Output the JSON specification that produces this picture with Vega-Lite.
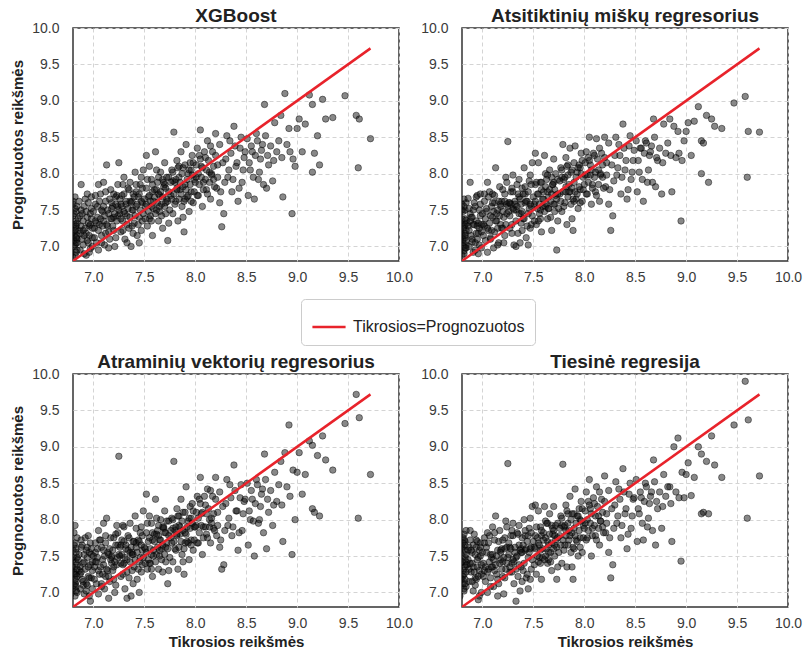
{
"$schema":"https://vega.github.io/schema/vega-lite/v6.json",
"padding":{"left":10,"top":6,"right":5,"bottom":5},
"config":{
 "font":"Liberation Sans",
 "view":{"stroke":"#333333","strokeWidth":1.5},
 "axis":{"grid":true,"gridDash":[4,3],"gridColor":"#d4d4d4","gridWidth":1,"domain":false,"ticks":false,"labelFontSize":14,"labelColor":"#3a3a3a","labelFlush":false,"labelOverlap":false,"titleFontSize":15,"titleFontWeight":"bold","titleColor":"#222222","values":[7,7.5,8,8.5,9,9.5,10],"format":".1f"},
 "axisX":{"labelPadding":9,"titlePadding":4},
 "axisY":{"labelPadding":14,"titlePadding":6},
 "title":{"fontSize":19,"fontWeight":"bold","color":"#222222","offset":-5},
 "circle":{"size":42,"fill":"#111111","fillOpacity":0.5,"stroke":"#000000","strokeWidth":0.8,"strokeOpacity":0.55},
 "legend":{"orient":"none","legendX":228,"legendY":271,"labelFontSize":16,"labelLimit":400,"labelColor":"#222222","symbolType":"stroke","symbolSize":1100,"symbolStrokeWidth":2.5,"strokeColor":"#cccccc","fillColor":"white","padding":10,"cornerRadius":4,"labelOffset":6}
},
"datasets":{
 "pts":[
{"actual":6.75,"xgb":7.05,"rf":7.10,"svr":7.02,"lr":7.15},
{"actual":6.78,"xgb":6.92,"rf":6.95,"svr":7.20,"lr":7.30},
{"actual":6.80,"xgb":7.20,"rf":7.15,"svr":7.45,"lr":7.60},
{"actual":6.82,"xgb":6.88,"rf":6.90,"svr":6.95,"lr":7.05},
{"actual":6.83,"xgb":7.35,"rf":7.30,"svr":7.60,"lr":7.70},
{"actual":6.81,"xgb":7.00,"rf":7.05,"svr":7.10,"lr":7.22},
{"actual":6.79,"xgb":7.12,"rf":7.20,"svr":7.30,"lr":7.40},
{"actual":6.84,"xgb":7.55,"rf":7.60,"svr":7.75,"lr":7.85},
{"actual":6.76,"xgb":6.98,"rf":7.00,"svr":6.90,"lr":7.10},
{"actual":6.83,"xgb":7.25,"rf":7.38,"svr":7.25,"lr":7.48},
{"actual":6.82,"xgb":7.68,"rf":7.65,"svr":7.92,"lr":7.80},
{"actual":6.80,"xgb":6.85,"rf":6.88,"svr":7.05,"lr":7.18},
{"actual":6.84,"xgb":7.10,"rf":7.02,"svr":7.38,"lr":7.28},
{"actual":6.77,"xgb":7.40,"rf":7.45,"svr":7.52,"lr":7.55},
{"actual":6.83,"xgb":7.05,"rf":7.12,"svr":7.15,"lr":7.35},
{"actual":6.81,"xgb":7.30,"rf":7.25,"svr":7.65,"lr":7.75},
{"actual":6.84,"xgb":6.95,"rf":6.98,"svr":7.00,"lr":7.08},
{"actual":6.79,"xgb":7.18,"rf":7.30,"svr":7.35,"lr":7.20},
{"actual":6.83,"xgb":7.48,"rf":7.50,"svr":7.55,"lr":7.65},
{"actual":6.82,"xgb":7.02,"rf":6.94,"svr":7.12,"lr":7.02},
{"actual":6.80,"xgb":7.62,"rf":7.58,"svr":7.48,"lr":7.50},
{"actual":6.84,"xgb":7.15,"rf":7.22,"svr":7.22,"lr":7.38},
{"actual":6.78,"xgb":6.90,"rf":7.08,"svr":6.98,"lr":6.95},
{"actual":6.83,"xgb":7.28,"rf":7.18,"svr":7.42,"lr":7.58},
{"actual":6.81,"xgb":7.08,"rf":7.00,"svr":7.28,"lr":7.12},
{"actual":6.86,"xgb":7.22,"rf":7.28,"svr":7.30,"lr":7.45},
{"actual":6.87,"xgb":6.95,"rf":7.00,"svr":7.05,"lr":7.15},
{"actual":6.88,"xgb":7.50,"rf":7.45,"svr":7.62,"lr":7.72},
{"actual":6.89,"xgb":7.10,"rf":7.15,"svr":7.18,"lr":7.28},
{"actual":6.90,"xgb":7.35,"rf":7.40,"svr":7.40,"lr":7.55},
{"actual":6.91,"xgb":6.90,"rf":6.92,"svr":6.98,"lr":7.02},
{"actual":6.92,"xgb":7.65,"rf":7.60,"svr":7.75,"lr":7.80},
{"actual":6.93,"xgb":7.18,"rf":7.05,"svr":7.12,"lr":7.20},
{"actual":6.94,"xgb":7.40,"rf":7.35,"svr":7.48,"lr":7.62},
{"actual":6.95,"xgb":7.05,"rf":7.10,"svr":7.22,"lr":7.35},
{"actual":6.96,"xgb":7.28,"rf":7.32,"svr":7.55,"lr":7.48},
{"actual":6.97,"xgb":6.97,"rf":7.02,"svr":6.88,"lr":6.95},
{"actual":6.98,"xgb":7.52,"rf":7.58,"svr":7.60,"lr":7.68},
{"actual":6.99,"xgb":7.12,"rf":7.20,"svr":7.30,"lr":7.25},
{"actual":6.88,"xgb":7.85,"rf":7.88,"svr":7.72,"lr":7.85},
{"actual":6.90,"xgb":7.22,"rf":7.10,"svr":7.15,"lr":7.40},
{"actual":6.93,"xgb":6.88,"rf":6.95,"svr":7.02,"lr":7.10},
{"actual":6.95,"xgb":7.60,"rf":7.70,"svr":7.78,"lr":7.70},
{"actual":6.97,"xgb":7.30,"rf":7.25,"svr":7.38,"lr":7.30},
{"actual":6.99,"xgb":7.00,"rf":6.98,"svr":7.05,"lr":7.00},
{"actual":6.87,"xgb":7.42,"rf":7.52,"svr":7.25,"lr":7.62},
{"actual":6.91,"xgb":7.15,"rf":7.30,"svr":7.42,"lr":7.35},
{"actual":6.96,"xgb":6.92,"rf":6.90,"svr":6.95,"lr":6.90},
{"actual":6.98,"xgb":7.38,"rf":7.42,"svr":7.20,"lr":7.50},
{"actual":6.94,"xgb":7.08,"rf":7.18,"svr":7.10,"lr":7.18},
{"actual":7.01,"xgb":7.25,"rf":7.30,"svr":7.35,"lr":7.40},
{"actual":7.02,"xgb":7.58,"rf":7.62,"svr":7.55,"lr":7.68},
{"actual":7.03,"xgb":7.05,"rf":7.08,"svr":7.12,"lr":7.15},
{"actual":7.04,"xgb":7.40,"rf":7.48,"svr":7.60,"lr":7.55},
{"actual":7.05,"xgb":6.95,"rf":6.92,"svr":6.98,"lr":7.00},
{"actual":7.06,"xgb":7.30,"rf":7.22,"svr":7.25,"lr":7.32},
{"actual":7.07,"xgb":7.72,"rf":7.75,"svr":7.72,"lr":7.78},
{"actual":7.08,"xgb":7.15,"rf":7.12,"svr":7.08,"lr":7.20},
{"actual":7.09,"xgb":7.48,"rf":7.55,"svr":7.45,"lr":7.48},
{"actual":7.10,"xgb":7.35,"rf":7.40,"svr":7.38,"lr":7.35},
{"actual":7.11,"xgb":7.02,"rf":6.98,"svr":7.05,"lr":7.08},
{"actual":7.12,"xgb":7.62,"rf":7.60,"svr":7.68,"lr":7.72},
{"actual":7.13,"xgb":8.12,"rf":8.08,"svr":8.02,"lr":8.05},
{"actual":7.14,"xgb":7.28,"rf":7.35,"svr":7.30,"lr":7.25},
{"actual":7.15,"xgb":7.45,"rf":7.50,"svr":7.52,"lr":7.58},
{"actual":7.16,"xgb":7.10,"rf":7.05,"svr":7.15,"lr":7.12},
{"actual":7.17,"xgb":7.78,"rf":7.82,"svr":7.75,"lr":7.85},
{"actual":7.18,"xgb":7.38,"rf":7.30,"svr":7.40,"lr":7.45},
{"actual":7.19,"xgb":7.55,"rf":7.62,"svr":7.58,"lr":7.60},
{"actual":7.20,"xgb":7.22,"rf":7.25,"svr":7.18,"lr":7.22},
{"actual":7.21,"xgb":7.00,"rf":7.05,"svr":7.00,"lr":6.98},
{"actual":7.22,"xgb":7.68,"rf":7.72,"svr":7.80,"lr":7.75},
{"actual":7.23,"xgb":7.70,"rf":7.95,"svr":7.92,"lr":7.98},
{"actual":7.24,"xgb":7.42,"rf":7.45,"svr":7.48,"lr":7.40},
{"actual":7.25,"xgb":8.15,"rf":8.44,"svr":8.87,"lr":8.77},
{"actual":7.05,"xgb":7.85,"rf":7.88,"svr":7.85,"lr":7.82},
{"actual":7.08,"xgb":7.50,"rf":7.42,"svr":7.62,"lr":7.52},
{"actual":7.12,"xgb":7.18,"rf":7.20,"svr":7.22,"lr":7.30},
{"actual":7.15,"xgb":6.98,"rf":7.02,"svr":6.92,"lr":6.95},
{"actual":7.18,"xgb":7.60,"rf":7.55,"svr":7.48,"lr":7.58},
{"actual":7.20,"xgb":7.40,"rf":7.48,"svr":7.35,"lr":7.42},
{"actual":7.22,"xgb":7.12,"rf":7.15,"svr":7.10,"lr":7.20},
{"actual":7.02,"xgb":7.35,"rf":7.28,"svr":7.42,"lr":7.30},
{"actual":7.10,"xgb":7.88,"rf":7.72,"svr":7.95,"lr":7.90},
{"actual":7.24,"xgb":7.55,"rf":7.58,"svr":7.65,"lr":7.62},
{"actual":7.26,"xgb":7.45,"rf":7.48,"svr":7.50,"lr":7.52},
{"actual":7.27,"xgb":7.20,"rf":7.25,"svr":7.22,"lr":7.28},
{"actual":7.28,"xgb":7.70,"rf":7.75,"svr":7.72,"lr":7.78},
{"actual":7.29,"xgb":7.35,"rf":7.30,"svr":7.38,"lr":7.40},
{"actual":7.30,"xgb":7.95,"rf":7.98,"svr":7.90,"lr":7.95},
{"actual":7.31,"xgb":7.10,"rf":7.02,"svr":7.05,"lr":7.12},
{"actual":7.32,"xgb":7.58,"rf":7.62,"svr":7.60,"lr":7.55},
{"actual":7.33,"xgb":7.42,"rf":7.50,"svr":7.45,"lr":7.48},
{"actual":7.34,"xgb":7.80,"rf":7.85,"svr":7.78,"lr":7.82},
{"actual":7.35,"xgb":7.25,"rf":7.18,"svr":7.20,"lr":7.22},
{"actual":7.36,"xgb":7.62,"rf":7.68,"svr":7.55,"lr":7.65},
{"actual":7.37,"xgb":7.00,"rf":7.05,"svr":6.95,"lr":7.02},
{"actual":7.38,"xgb":7.50,"rf":7.45,"svr":7.52,"lr":7.55},
{"actual":7.39,"xgb":7.72,"rf":7.80,"svr":7.70,"lr":7.75},
{"actual":7.40,"xgb":7.32,"rf":7.38,"svr":7.35,"lr":7.30},
{"actual":7.41,"xgb":8.02,"rf":8.08,"svr":8.05,"lr":8.00},
{"actual":7.42,"xgb":7.55,"rf":7.60,"svr":7.62,"lr":7.58},
{"actual":7.43,"xgb":7.15,"rf":7.12,"svr":7.18,"lr":7.20},
{"actual":7.44,"xgb":7.68,"rf":7.62,"svr":7.72,"lr":7.70},
{"actual":7.45,"xgb":7.40,"rf":7.45,"svr":7.42,"lr":7.48},
{"actual":7.46,"xgb":7.85,"rf":7.90,"svr":7.82,"lr":7.88},
{"actual":7.47,"xgb":7.22,"rf":7.25,"svr":7.28,"lr":7.18},
{"actual":7.48,"xgb":7.60,"rf":7.55,"svr":7.58,"lr":7.62},
{"actual":7.49,"xgb":8.05,"rf":8.15,"svr":8.12,"lr":8.18},
{"actual":7.27,"xgb":7.58,"rf":7.60,"svr":7.65,"lr":7.62},
{"actual":7.30,"xgb":7.48,"rf":7.52,"svr":7.40,"lr":7.45},
{"actual":7.33,"xgb":7.05,"rf":7.00,"svr":6.92,"lr":6.88},
{"actual":7.36,"xgb":7.88,"rf":7.92,"svr":7.95,"lr":7.92},
{"actual":7.39,"xgb":7.18,"rf":7.22,"svr":7.12,"lr":7.15},
{"actual":7.42,"xgb":7.75,"rf":7.72,"svr":7.68,"lr":7.78},
{"actual":7.45,"xgb":7.05,"rf":7.02,"svr":7.00,"lr":7.05},
{"actual":7.48,"xgb":7.35,"rf":7.30,"svr":7.38,"lr":7.32},
{"actual":7.29,"xgb":7.85,"rf":7.80,"svr":7.92,"lr":7.85},
{"actual":7.38,"xgb":7.62,"rf":7.58,"svr":7.55,"lr":7.60},
{"actual":7.47,"xgb":7.95,"rf":7.98,"svr":7.90,"lr":8.02},
{"actual":7.51,"xgb":7.55,"rf":7.58,"svr":7.60,"lr":7.62},
{"actual":7.52,"xgb":7.80,"rf":7.85,"svr":7.82,"lr":7.78},
{"actual":7.53,"xgb":7.28,"rf":7.30,"svr":7.32,"lr":7.25},
{"actual":7.54,"xgb":7.68,"rf":7.72,"svr":7.70,"lr":7.75},
{"actual":7.55,"xgb":8.10,"rf":8.15,"svr":8.05,"lr":8.12},
{"actual":7.56,"xgb":7.42,"rf":7.45,"svr":7.40,"lr":7.48},
{"actual":7.57,"xgb":7.92,"rf":7.88,"svr":7.95,"lr":7.90},
{"actual":7.58,"xgb":7.15,"rf":7.20,"svr":7.22,"lr":7.18},
{"actual":7.59,"xgb":7.62,"rf":7.65,"svr":7.58,"lr":7.60},
{"actual":7.60,"xgb":7.78,"rf":7.75,"svr":7.80,"lr":7.82},
{"actual":7.61,"xgb":8.30,"rf":8.25,"svr":8.28,"lr":8.18},
{"actual":7.62,"xgb":7.50,"rf":7.55,"svr":7.52,"lr":7.50},
{"actual":7.63,"xgb":7.88,"rf":7.92,"svr":7.85,"lr":7.95},
{"actual":7.64,"xgb":7.35,"rf":7.38,"svr":7.32,"lr":7.40},
{"actual":7.65,"xgb":7.70,"rf":7.68,"svr":7.72,"lr":7.65},
{"actual":7.66,"xgb":8.02,"rf":8.05,"svr":8.00,"lr":8.08},
{"actual":7.67,"xgb":7.58,"rf":7.62,"svr":7.60,"lr":7.55},
{"actual":7.68,"xgb":7.25,"rf":7.22,"svr":7.28,"lr":7.30},
{"actual":7.69,"xgb":7.82,"rf":7.85,"svr":7.88,"lr":7.80},
{"actual":7.70,"xgb":8.15,"rf":8.20,"svr":8.12,"lr":8.18},
{"actual":7.71,"xgb":7.45,"rf":7.48,"svr":7.42,"lr":7.50},
{"actual":7.72,"xgb":7.65,"rf":7.70,"svr":7.68,"lr":7.72},
{"actual":7.73,"xgb":7.08,"rf":6.95,"svr":7.12,"lr":7.18},
{"actual":7.74,"xgb":7.95,"rf":7.92,"svr":7.98,"lr":7.95},
{"actual":7.52,"xgb":8.25,"rf":8.28,"svr":8.35,"lr":8.20},
{"actual":7.55,"xgb":7.38,"rf":7.35,"svr":7.40,"lr":7.42},
{"actual":7.58,"xgb":7.75,"rf":7.78,"svr":7.72,"lr":7.78},
{"actual":7.62,"xgb":8.05,"rf":8.00,"svr":8.02,"lr":7.98},
{"actual":7.65,"xgb":7.48,"rf":7.52,"svr":7.50,"lr":7.45},
{"actual":7.68,"xgb":7.92,"rf":7.95,"svr":7.90,"lr":7.92},
{"actual":7.71,"xgb":7.60,"rf":7.58,"svr":7.62,"lr":7.65},
{"actual":7.74,"xgb":7.32,"rf":7.35,"svr":7.30,"lr":7.35},
{"actual":7.57,"xgb":7.55,"rf":7.50,"svr":7.52,"lr":7.58},
{"actual":7.64,"xgb":7.72,"rf":7.75,"svr":7.78,"lr":7.70},
{"actual":7.70,"xgb":7.85,"rf":7.88,"svr":7.82,"lr":7.85},
{"actual":7.76,"xgb":7.70,"rf":7.72,"svr":7.75,"lr":7.78},
{"actual":7.77,"xgb":8.05,"rf":8.08,"svr":8.02,"lr":8.05},
{"actual":7.78,"xgb":7.45,"rf":7.48,"svr":7.42,"lr":7.40},
{"actual":7.79,"xgb":8.57,"rf":8.40,"svr":8.80,"lr":8.76},
{"actual":7.80,"xgb":7.88,"rf":7.92,"svr":7.85,"lr":7.90},
{"actual":7.81,"xgb":7.62,"rf":7.60,"svr":7.58,"lr":7.65},
{"actual":7.82,"xgb":8.18,"rf":8.22,"svr":8.15,"lr":8.20},
{"actual":7.83,"xgb":7.35,"rf":7.30,"svr":7.32,"lr":7.35},
{"actual":7.84,"xgb":7.95,"rf":7.98,"svr":7.92,"lr":7.95},
{"actual":7.85,"xgb":7.78,"rf":7.75,"svr":7.80,"lr":7.72},
{"actual":7.86,"xgb":8.30,"rf":8.35,"svr":8.28,"lr":8.32},
{"actual":7.87,"xgb":7.55,"rf":7.58,"svr":7.52,"lr":7.55},
{"actual":7.88,"xgb":8.08,"rf":8.05,"svr":8.10,"lr":8.08},
{"actual":7.89,"xgb":7.20,"rf":7.22,"svr":7.25,"lr":7.18},
{"actual":7.90,"xgb":7.85,"rf":7.88,"svr":7.82,"lr":7.88},
{"actual":7.91,"xgb":8.40,"rf":8.38,"svr":8.45,"lr":8.42},
{"actual":7.92,"xgb":7.68,"rf":7.65,"svr":7.70,"lr":7.72},
{"actual":7.93,"xgb":8.00,"rf":8.02,"svr":7.98,"lr":8.05},
{"actual":7.94,"xgb":7.48,"rf":7.52,"svr":7.45,"lr":7.50},
{"actual":7.95,"xgb":8.15,"rf":8.12,"svr":8.18,"lr":8.15},
{"actual":7.96,"xgb":7.75,"rf":7.78,"svr":7.72,"lr":7.75},
{"actual":7.97,"xgb":8.25,"rf":8.28,"svr":8.22,"lr":8.25},
{"actual":7.98,"xgb":7.60,"rf":7.62,"svr":7.58,"lr":7.55},
{"actual":7.99,"xgb":7.92,"rf":7.95,"svr":7.90,"lr":7.92},
{"actual":7.78,"xgb":7.90,"rf":7.95,"svr":7.88,"lr":7.92},
{"actual":7.84,"xgb":8.10,"rf":8.12,"svr":8.05,"lr":8.08},
{"actual":7.90,"xgb":7.65,"rf":7.62,"svr":7.68,"lr":7.60},
{"actual":7.96,"xgb":8.05,"rf":8.08,"svr":8.02,"lr":8.00},
{"actual":7.82,"xgb":7.80,"rf":7.82,"svr":7.78,"lr":7.85},
{"actual":7.88,"xgb":7.40,"rf":7.38,"svr":7.42,"lr":7.35},
{"actual":8.01,"xgb":7.95,"rf":7.98,"svr":7.92,"lr":7.95},
{"actual":8.02,"xgb":8.35,"rf":8.30,"svr":8.32,"lr":8.38},
{"actual":8.03,"xgb":7.70,"rf":7.72,"svr":7.68,"lr":7.75},
{"actual":8.05,"xgb":8.60,"rf":8.50,"svr":8.58,"lr":8.55},
{"actual":8.06,"xgb":8.10,"rf":8.12,"svr":8.08,"lr":8.15},
{"actual":8.07,"xgb":7.55,"rf":7.58,"svr":7.52,"lr":7.50},
{"actual":8.08,"xgb":7.88,"rf":7.85,"svr":7.90,"lr":7.88},
{"actual":8.10,"xgb":8.22,"rf":8.25,"svr":8.20,"lr":8.22},
{"actual":8.11,"xgb":7.78,"rf":7.75,"svr":7.80,"lr":7.78},
{"actual":8.12,"xgb":8.45,"rf":8.48,"svr":8.42,"lr":8.45},
{"actual":8.14,"xgb":8.02,"rf":8.05,"svr":8.00,"lr":8.05},
{"actual":8.15,"xgb":7.65,"rf":7.62,"svr":7.68,"lr":7.65},
{"actual":8.17,"xgb":8.30,"rf":8.28,"svr":8.32,"lr":8.28},
{"actual":8.18,"xgb":7.92,"rf":7.95,"svr":7.88,"lr":7.90},
{"actual":8.20,"xgb":8.55,"rf":8.50,"svr":8.58,"lr":8.60},
{"actual":8.21,"xgb":7.80,"rf":7.82,"svr":7.78,"lr":7.82},
{"actual":8.22,"xgb":8.12,"rf":8.15,"svr":8.10,"lr":8.08},
{"actual":8.24,"xgb":7.60,"rf":7.58,"svr":7.62,"lr":7.55},
{"actual":8.04,"xgb":8.25,"rf":8.22,"svr":8.28,"lr":8.25},
{"actual":8.16,"xgb":8.00,"rf":7.98,"svr":8.02,"lr":7.98},
{"actual":8.26,"xgb":7.27,"rf":7.22,"svr":7.32,"lr":7.20},
{"actual":8.28,"xgb":7.45,"rf":7.42,"svr":7.38,"lr":7.38},
{"actual":8.30,"xgb":8.20,"rf":8.25,"svr":8.22,"lr":8.20},
{"actual":8.32,"xgb":7.95,"rf":7.98,"svr":7.92,"lr":7.95},
{"actual":8.34,"xgb":8.45,"rf":8.40,"svr":8.48,"lr":8.42},
{"actual":8.36,"xgb":7.75,"rf":7.72,"svr":7.78,"lr":7.75},
{"actual":8.38,"xgb":8.65,"rf":8.68,"svr":8.75,"lr":8.70},
{"actual":8.40,"xgb":8.10,"rf":8.05,"svr":8.12,"lr":8.08},
{"actual":8.42,"xgb":7.62,"rf":7.65,"svr":7.58,"lr":7.60},
{"actual":8.44,"xgb":8.35,"rf":8.38,"svr":8.30,"lr":8.35},
{"actual":8.46,"xgb":7.88,"rf":7.92,"svr":7.85,"lr":7.88},
{"actual":8.48,"xgb":8.22,"rf":8.18,"svr":8.25,"lr":8.28},
{"actual":8.51,"xgb":8.48,"rf":8.45,"svr":8.50,"lr":8.55},
{"actual":8.52,"xgb":7.70,"rf":7.75,"svr":7.65,"lr":7.70},
{"actual":8.54,"xgb":8.05,"rf":8.02,"svr":8.00,"lr":8.08},
{"actual":8.56,"xgb":8.30,"rf":8.35,"svr":8.28,"lr":8.30},
{"actual":8.58,"xgb":7.65,"rf":7.62,"svr":7.50,"lr":7.72},
{"actual":8.60,"xgb":8.55,"rf":8.45,"svr":8.55,"lr":8.50},
{"actual":8.62,"xgb":7.92,"rf":7.88,"svr":7.95,"lr":7.90},
{"actual":8.64,"xgb":8.20,"rf":8.25,"svr":8.18,"lr":8.22},
{"actual":8.66,"xgb":8.40,"rf":8.38,"svr":8.42,"lr":8.38},
{"actual":8.68,"xgb":8.95,"rf":8.75,"svr":8.90,"lr":8.82},
{"actual":8.70,"xgb":7.80,"rf":7.82,"svr":7.60,"lr":7.65},
{"actual":8.72,"xgb":8.12,"rf":8.18,"svr":8.10,"lr":8.15},
{"actual":8.76,"xgb":7.90,"rf":7.72,"svr":7.92,"lr":7.88},
{"actual":8.78,"xgb":8.70,"rf":8.68,"svr":8.65,"lr":8.62},
{"actual":8.80,"xgb":8.30,"rf":8.28,"svr":8.25,"lr":8.32},
{"actual":8.84,"xgb":8.80,"rf":8.75,"svr":8.80,"lr":8.45},
{"actual":8.86,"xgb":7.68,"rf":7.75,"svr":7.70,"lr":7.70},
{"actual":8.88,"xgb":9.10,"rf":8.65,"svr":8.92,"lr":9.00},
{"actual":8.90,"xgb":8.40,"rf":8.22,"svr":8.45,"lr":8.38},
{"actual":8.92,"xgb":8.62,"rf":8.58,"svr":9.30,"lr":9.12},
{"actual":8.95,"xgb":7.45,"rf":7.35,"svr":7.52,"lr":7.43},
{"actual":8.96,"xgb":8.20,"rf":8.18,"svr":8.68,"lr":8.65},
{"actual":8.98,"xgb":8.10,"rf":8.45,"svr":8.00,"lr":8.30},
{"actual":9.02,"xgb":8.75,"rf":8.70,"svr":8.92,"lr":8.78},
{"actual":9.05,"xgb":8.30,"rf":8.25,"svr":8.35,"lr":8.33},
{"actual":9.08,"xgb":8.68,"rf":8.72,"svr":8.62,"lr":8.58},
{"actual":9.12,"xgb":9.08,"rf":8.92,"svr":9.08,"lr":9.00},
{"actual":9.15,"xgb":8.95,"rf":8.45,"svr":9.02,"lr":8.90},
{"actual":9.17,"xgb":8.28,"rf":8.42,"svr":8.10,"lr":8.10},
{"actual":9.20,"xgb":8.52,"rf":8.80,"svr":8.88,"lr":8.80},
{"actual":9.22,"xgb":8.12,"rf":7.88,"svr":8.05,"lr":8.08},
{"actual":9.25,"xgb":9.02,"rf":8.75,"svr":9.15,"lr":9.15},
{"actual":9.28,"xgb":8.75,"rf":8.65,"svr":8.82,"lr":8.75},
{"actual":9.35,"xgb":8.77,"rf":8.62,"svr":8.68,"lr":8.58},
{"actual":9.47,"xgb":9.07,"rf":8.97,"svr":9.32,"lr":9.30},
{"actual":9.58,"xgb":8.80,"rf":9.06,"svr":9.72,"lr":9.90},
{"actual":9.60,"xgb":8.08,"rf":7.95,"svr":8.02,"lr":8.02},
{"actual":9.61,"xgb":8.75,"rf":8.58,"svr":9.40,"lr":9.37},
{"actual":9.72,"xgb":8.48,"rf":8.57,"svr":8.62,"lr":8.60},
{"actual":9.15,"xgb":8.02,"rf":8.00,"svr":8.15,"lr":8.08},
{"actual":6.80,"xgb":7.42,"rf":7.38,"svr":7.58,"lr":7.62},
{"actual":6.81,"xgb":7.15,"rf":7.10,"svr":7.25,"lr":7.30},
{"actual":6.82,"xgb":7.52,"rf":7.55,"svr":7.68,"lr":7.72},
{"actual":6.83,"xgb":6.92,"rf":6.98,"svr":7.08,"lr":7.12},
{"actual":6.84,"xgb":7.32,"rf":7.36,"svr":7.48,"lr":7.52},
{"actual":6.80,"xgb":7.58,"rf":7.50,"svr":7.35,"lr":7.42},
{"actual":6.82,"xgb":7.22,"rf":7.28,"svr":7.18,"lr":7.25},
{"actual":6.84,"xgb":7.05,"rf":7.08,"svr":7.32,"lr":7.42},
{"actual":6.81,"xgb":7.45,"rf":7.48,"svr":7.82,"lr":7.68},
{"actual":6.83,"xgb":7.12,"rf":7.15,"svr":7.02,"lr":7.18},
{"actual":6.85,"xgb":7.38,"rf":7.32,"svr":7.45,"lr":7.38},
{"actual":6.86,"xgb":7.62,"rf":7.66,"svr":7.52,"lr":7.58},
{"actual":6.87,"xgb":7.18,"rf":7.22,"svr":7.35,"lr":7.32},
{"actual":6.88,"xgb":7.28,"rf":7.35,"svr":7.28,"lr":7.40},
{"actual":6.89,"xgb":7.45,"rf":7.40,"svr":7.65,"lr":7.58},
{"actual":6.90,"xgb":7.02,"rf":7.06,"svr":7.10,"lr":7.15},
{"actual":6.91,"xgb":7.55,"rf":7.50,"svr":7.52,"lr":7.65},
{"actual":6.92,"xgb":7.25,"rf":7.30,"svr":7.32,"lr":7.28},
{"actual":6.93,"xgb":7.48,"rf":7.55,"svr":7.58,"lr":7.52},
{"actual":6.94,"xgb":7.72,"rf":7.68,"svr":7.62,"lr":7.72},
{"actual":6.95,"xgb":7.32,"rf":7.28,"svr":7.35,"lr":7.45},
{"actual":6.96,"xgb":7.15,"rf":7.18,"svr":7.20,"lr":7.22},
{"actual":6.97,"xgb":7.45,"rf":7.50,"svr":7.68,"lr":7.58},
{"actual":6.98,"xgb":7.68,"rf":7.72,"svr":7.52,"lr":7.62},
{"actual":6.99,"xgb":7.25,"rf":7.30,"svr":7.42,"lr":7.38},
{"actual":7.00,"xgb":7.48,"rf":7.45,"svr":7.50,"lr":7.55},
{"actual":7.01,"xgb":7.12,"rf":7.15,"svr":7.18,"lr":7.22},
{"actual":7.02,"xgb":7.70,"rf":7.72,"svr":7.68,"lr":7.75},
{"actual":7.03,"xgb":7.32,"rf":7.38,"svr":7.42,"lr":7.35},
{"actual":7.04,"xgb":7.55,"rf":7.52,"svr":7.48,"lr":7.62},
{"actual":7.05,"xgb":7.22,"rf":7.25,"svr":7.30,"lr":7.28},
{"actual":7.06,"xgb":7.62,"rf":7.68,"svr":7.72,"lr":7.68},
{"actual":7.07,"xgb":7.38,"rf":7.32,"svr":7.35,"lr":7.42},
{"actual":7.08,"xgb":7.05,"rf":7.10,"svr":7.12,"lr":7.08},
{"actual":7.09,"xgb":7.28,"rf":7.22,"svr":7.25,"lr":7.35},
{"actual":7.10,"xgb":7.55,"rf":7.60,"svr":7.58,"lr":7.52},
{"actual":7.11,"xgb":7.42,"rf":7.48,"svr":7.50,"lr":7.45},
{"actual":7.12,"xgb":7.75,"rf":7.70,"svr":7.78,"lr":7.82},
{"actual":7.13,"xgb":7.30,"rf":7.35,"svr":7.32,"lr":7.38},
{"actual":7.14,"xgb":7.50,"rf":7.45,"svr":7.55,"lr":7.50},
{"actual":7.15,"xgb":7.20,"rf":7.25,"svr":7.22,"lr":7.18},
{"actual":7.16,"xgb":7.65,"rf":7.62,"svr":7.60,"lr":7.70},
{"actual":7.17,"xgb":7.38,"rf":7.42,"svr":7.45,"lr":7.40},
{"actual":7.18,"xgb":7.52,"rf":7.58,"svr":7.50,"lr":7.55},
{"actual":7.19,"xgb":7.28,"rf":7.25,"svr":7.30,"lr":7.32},
{"actual":7.20,"xgb":7.72,"rf":7.78,"svr":7.75,"lr":7.72},
{"actual":7.21,"xgb":7.45,"rf":7.40,"svr":7.42,"lr":7.48},
{"actual":7.22,"xgb":7.58,"rf":7.62,"svr":7.65,"lr":7.60},
{"actual":7.23,"xgb":7.35,"rf":7.30,"svr":7.38,"lr":7.32},
{"actual":7.24,"xgb":7.85,"rf":7.88,"svr":7.82,"lr":7.90},
{"actual":7.25,"xgb":7.50,"rf":7.55,"svr":7.52,"lr":7.48},
{"actual":7.26,"xgb":7.65,"rf":7.60,"svr":7.62,"lr":7.68},
{"actual":7.27,"xgb":7.38,"rf":7.42,"svr":7.40,"lr":7.35},
{"actual":7.28,"xgb":7.55,"rf":7.58,"svr":7.52,"lr":7.60},
{"actual":7.29,"xgb":7.22,"rf":7.18,"svr":7.25,"lr":7.28},
{"actual":7.30,"xgb":7.72,"rf":7.75,"svr":7.70,"lr":7.78},
{"actual":7.31,"xgb":7.45,"rf":7.50,"svr":7.48,"lr":7.42},
{"actual":7.32,"xgb":7.62,"rf":7.58,"svr":7.65,"lr":7.62},
{"actual":7.33,"xgb":7.30,"rf":7.35,"svr":7.28,"lr":7.32},
{"actual":7.34,"xgb":7.52,"rf":7.55,"svr":7.58,"lr":7.50},
{"actual":7.35,"xgb":7.78,"rf":7.72,"svr":7.75,"lr":7.80},
{"actual":7.36,"xgb":7.40,"rf":7.45,"svr":7.42,"lr":7.38},
{"actual":7.37,"xgb":7.60,"rf":7.65,"svr":7.62,"lr":7.58},
{"actual":7.38,"xgb":7.28,"rf":7.32,"svr":7.30,"lr":7.35},
{"actual":7.39,"xgb":7.50,"rf":7.48,"svr":7.52,"lr":7.55},
{"actual":7.40,"xgb":7.68,"rf":7.72,"svr":7.70,"lr":7.65},
{"actual":7.41,"xgb":7.42,"rf":7.38,"svr":7.45,"lr":7.40},
{"actual":7.42,"xgb":7.85,"rf":7.82,"svr":7.88,"lr":7.85},
{"actual":7.43,"xgb":7.58,"rf":7.62,"svr":7.55,"lr":7.60},
{"actual":7.44,"xgb":7.30,"rf":7.28,"svr":7.32,"lr":7.25},
{"actual":7.45,"xgb":7.72,"rf":7.75,"svr":7.70,"lr":7.78},
{"actual":7.46,"xgb":7.50,"rf":7.52,"svr":7.48,"lr":7.55},
{"actual":7.47,"xgb":7.62,"rf":7.58,"svr":7.65,"lr":7.60},
{"actual":7.48,"xgb":7.80,"rf":7.85,"svr":7.78,"lr":7.82},
{"actual":7.49,"xgb":7.45,"rf":7.42,"svr":7.48,"lr":7.45},
{"actual":7.50,"xgb":7.65,"rf":7.68,"svr":7.62,"lr":7.70},
{"actual":7.51,"xgb":7.38,"rf":7.35,"svr":7.40,"lr":7.38},
{"actual":7.52,"xgb":7.58,"rf":7.62,"svr":7.55,"lr":7.60},
{"actual":7.53,"xgb":7.92,"rf":7.88,"svr":7.95,"lr":7.90},
{"actual":7.54,"xgb":7.48,"rf":7.52,"svr":7.45,"lr":7.50},
{"actual":7.55,"xgb":7.70,"rf":7.72,"svr":7.75,"lr":7.68},
{"actual":7.56,"xgb":7.62,"rf":7.58,"svr":7.60,"lr":7.65},
{"actual":7.57,"xgb":7.35,"rf":7.38,"svr":7.32,"lr":7.40},
{"actual":7.58,"xgb":7.85,"rf":7.88,"svr":7.82,"lr":7.85},
{"actual":7.59,"xgb":7.52,"rf":7.55,"svr":7.50,"lr":7.48},
{"actual":7.60,"xgb":7.68,"rf":7.65,"svr":7.70,"lr":7.72},
{"actual":7.61,"xgb":7.45,"rf":7.48,"svr":7.42,"lr":7.45},
{"actual":7.62,"xgb":7.78,"rf":7.82,"svr":7.80,"lr":7.75},
{"actual":7.63,"xgb":7.60,"rf":7.58,"svr":7.62,"lr":7.60},
{"actual":7.64,"xgb":7.95,"rf":7.98,"svr":7.92,"lr":7.95},
{"actual":7.65,"xgb":7.55,"rf":7.52,"svr":7.58,"lr":7.55},
{"actual":7.66,"xgb":7.75,"rf":7.78,"svr":7.72,"lr":7.80},
{"actual":7.67,"xgb":7.42,"rf":7.40,"svr":7.45,"lr":7.42},
{"actual":7.68,"xgb":7.68,"rf":7.72,"svr":7.65,"lr":7.68},
{"actual":7.69,"xgb":7.88,"rf":7.85,"svr":7.90,"lr":7.88},
{"actual":7.70,"xgb":7.55,"rf":7.58,"svr":7.52,"lr":7.60},
{"actual":7.71,"xgb":7.80,"rf":7.78,"svr":7.82,"lr":7.78},
{"actual":7.72,"xgb":7.95,"rf":8.00,"svr":7.98,"lr":7.92},
{"actual":7.73,"xgb":7.62,"rf":7.65,"svr":7.60,"lr":7.62},
{"actual":7.74,"xgb":7.75,"rf":7.72,"svr":7.78,"lr":7.75},
{"actual":7.75,"xgb":7.50,"rf":7.52,"svr":7.48,"lr":7.55},
{"actual":7.76,"xgb":7.88,"rf":7.90,"svr":7.85,"lr":7.88},
{"actual":7.77,"xgb":7.65,"rf":7.62,"svr":7.68,"lr":7.65},
{"actual":7.78,"xgb":8.02,"rf":8.05,"svr":8.00,"lr":8.02},
{"actual":7.79,"xgb":7.72,"rf":7.75,"svr":7.70,"lr":7.72},
{"actual":7.80,"xgb":7.58,"rf":7.55,"svr":7.60,"lr":7.58},
{"actual":7.81,"xgb":7.92,"rf":7.95,"svr":7.90,"lr":7.92},
{"actual":7.82,"xgb":7.78,"rf":7.75,"svr":7.80,"lr":7.78},
{"actual":7.83,"xgb":8.08,"rf":8.10,"svr":8.05,"lr":8.12},
{"actual":7.84,"xgb":7.65,"rf":7.68,"svr":7.62,"lr":7.65},
{"actual":7.85,"xgb":7.88,"rf":7.85,"svr":7.90,"lr":7.85},
{"actual":7.86,"xgb":7.72,"rf":7.75,"svr":7.70,"lr":7.78},
{"actual":7.87,"xgb":8.00,"rf":8.02,"svr":7.98,"lr":8.00},
{"actual":7.88,"xgb":7.82,"rf":7.80,"svr":7.85,"lr":7.82},
{"actual":7.89,"xgb":7.62,"rf":7.65,"svr":7.60,"lr":7.62},
{"actual":7.90,"xgb":8.12,"rf":8.15,"svr":8.10,"lr":8.08},
{"actual":7.91,"xgb":7.78,"rf":7.75,"svr":7.80,"lr":7.78},
{"actual":7.92,"xgb":7.92,"rf":7.95,"svr":7.90,"lr":7.95},
{"actual":7.93,"xgb":7.70,"rf":7.72,"svr":7.68,"lr":7.70},
{"actual":7.94,"xgb":8.05,"rf":8.08,"svr":8.02,"lr":8.05},
{"actual":7.95,"xgb":7.85,"rf":7.82,"svr":7.88,"lr":7.85},
{"actual":7.96,"xgb":7.62,"rf":7.60,"svr":7.65,"lr":7.62},
{"actual":7.97,"xgb":7.98,"rf":8.00,"svr":7.95,"lr":7.98},
{"actual":7.98,"xgb":8.15,"rf":8.18,"svr":8.12,"lr":8.15},
{"actual":7.99,"xgb":7.75,"rf":7.78,"svr":7.72,"lr":7.75},
{"actual":8.00,"xgb":7.88,"rf":7.85,"svr":7.90,"lr":7.88},
{"actual":8.01,"xgb":8.12,"rf":8.15,"svr":8.10,"lr":8.12},
{"actual":8.02,"xgb":7.70,"rf":7.72,"svr":7.68,"lr":7.72},
{"actual":8.03,"xgb":8.00,"rf":7.98,"svr":8.02,"lr":8.00},
{"actual":8.04,"xgb":7.85,"rf":7.88,"svr":7.82,"lr":7.85},
{"actual":8.05,"xgb":8.20,"rf":8.18,"svr":8.22,"lr":8.20},
{"actual":8.06,"xgb":7.95,"rf":7.98,"svr":7.92,"lr":7.95},
{"actual":8.07,"xgb":8.08,"rf":8.05,"svr":8.10,"lr":8.08},
{"actual":8.08,"xgb":7.78,"rf":7.80,"svr":7.75,"lr":7.78},
{"actual":8.09,"xgb":8.30,"rf":8.28,"svr":8.32,"lr":8.30},
{"actual":8.10,"xgb":7.92,"rf":7.95,"svr":7.90,"lr":7.92},
{"actual":8.11,"xgb":8.05,"rf":8.02,"svr":8.08,"lr":8.05},
{"actual":8.12,"xgb":7.72,"rf":7.70,"svr":7.75,"lr":7.72},
{"actual":8.13,"xgb":8.18,"rf":8.20,"svr":8.15,"lr":8.18},
{"actual":8.14,"xgb":7.88,"rf":7.85,"svr":7.90,"lr":7.88},
{"actual":8.15,"xgb":8.38,"rf":8.35,"svr":8.40,"lr":8.38},
{"actual":8.16,"xgb":7.98,"rf":8.00,"svr":7.95,"lr":7.98},
{"actual":8.18,"xgb":8.10,"rf":8.12,"svr":8.08,"lr":8.10},
{"actual":8.19,"xgb":7.82,"rf":7.80,"svr":7.85,"lr":7.82},
{"actual":8.20,"xgb":8.25,"rf":8.22,"svr":8.28,"lr":8.25},
{"actual":8.22,"xgb":7.95,"rf":7.98,"svr":7.92,"lr":7.95},
{"actual":8.24,"xgb":8.40,"rf":8.42,"svr":8.38,"lr":8.40},
{"actual":8.25,"xgb":7.75,"rf":7.78,"svr":7.72,"lr":7.75},
{"actual":8.27,"xgb":8.15,"rf":8.12,"svr":8.18,"lr":8.15},
{"actual":8.29,"xgb":7.88,"rf":7.90,"svr":7.85,"lr":7.88},
{"actual":8.31,"xgb":8.52,"rf":8.50,"svr":8.55,"lr":8.52},
{"actual":8.33,"xgb":8.05,"rf":8.08,"svr":8.02,"lr":8.05},
{"actual":8.35,"xgb":8.28,"rf":8.25,"svr":8.30,"lr":8.28},
{"actual":8.37,"xgb":7.92,"rf":7.95,"svr":7.90,"lr":7.92},
{"actual":8.39,"xgb":8.38,"rf":8.35,"svr":8.40,"lr":8.38},
{"actual":8.41,"xgb":8.15,"rf":8.18,"svr":8.12,"lr":8.15},
{"actual":8.43,"xgb":7.80,"rf":7.78,"svr":7.82,"lr":7.80},
{"actual":8.45,"xgb":8.50,"rf":8.52,"svr":8.48,"lr":8.50},
{"actual":8.47,"xgb":8.05,"rf":8.02,"svr":8.08,"lr":8.05},
{"actual":8.49,"xgb":8.30,"rf":8.32,"svr":8.28,"lr":8.30},
{"actual":8.53,"xgb":8.15,"rf":8.18,"svr":8.12,"lr":8.15},
{"actual":8.55,"xgb":8.38,"rf":8.35,"svr":8.40,"lr":8.38},
{"actual":8.57,"xgb":7.95,"rf":7.92,"svr":7.98,"lr":7.95},
{"actual":8.59,"xgb":8.25,"rf":8.28,"svr":8.22,"lr":8.25},
{"actual":8.61,"xgb":8.45,"rf":8.42,"svr":8.48,"lr":8.45},
{"actual":8.63,"xgb":8.02,"rf":8.05,"svr":8.00,"lr":8.02},
{"actual":8.65,"xgb":8.32,"rf":8.30,"svr":8.35,"lr":8.32},
{"actual":8.67,"xgb":7.85,"rf":7.88,"svr":7.82,"lr":7.85},
{"actual":8.69,"xgb":8.52,"rf":8.50,"svr":8.55,"lr":8.52},
{"actual":8.71,"xgb":8.25,"rf":8.22,"svr":8.28,"lr":8.25},
{"actual":8.74,"xgb":8.38,"rf":8.35,"svr":8.40,"lr":8.38},
{"actual":8.77,"xgb":8.18,"rf":8.15,"svr":8.20,"lr":8.18},
{"actual":8.82,"xgb":8.45,"rf":8.42,"svr":8.48,"lr":8.45},
{"actual":8.85,"xgb":8.22,"rf":8.25,"svr":8.20,"lr":8.22},
{"actual":8.93,"xgb":8.30,"rf":8.28,"svr":8.32,"lr":8.30},
{"actual":9.00,"xgb":8.62,"rf":8.58,"svr":8.65,"lr":8.62}
 ],
 "diag":[{"v":6.8,"k":"Tikrosios=Prognozuotos"},{"v":9.72,"k":"Tikrosios=Prognozuotos"}]
},
"resolve":{"scale":{"color":"shared"},"legend":{"color":"shared"}},
"bounds":"flush",
"columns":2,
"spacing":{"row":113,"column":63},
"concat":[
  {"width":326,"height":233,"title":"XGBoost","layer":[
   {"data":{"name":"pts"},"mark":{"type":"circle","clip":true},
    "encoding":{"x":{"field":"actual","type":"quantitative","scale":{"domain":[6.8,10],"nice":false,"zero":false},"axis":{"title":null}},
     "y":{"field":"xgb","type":"quantitative","scale":{"domain":[6.8,10],"nice":false,"zero":false},"axis":{"title":"Prognozuotos reikšmės"}}}},
   {"data":{"name":"diag"},"mark":{"type":"line","strokeWidth":2.5,"clip":true},
    "encoding":{"x":{"field":"v","type":"quantitative"},"y":{"field":"v","type":"quantitative"},
     "color":{"field":"k","type":"nominal","scale":{"range":["#e8232b"]},"legend":{"title":null}}}}
  ]},
  {"width":326,"height":233,"title":"Atsitiktinių miškų regresorius","layer":[
   {"data":{"name":"pts"},"mark":{"type":"circle","clip":true},
    "encoding":{"x":{"field":"actual","type":"quantitative","scale":{"domain":[6.8,10],"nice":false,"zero":false},"axis":{"title":null}},
     "y":{"field":"rf","type":"quantitative","scale":{"domain":[6.8,10],"nice":false,"zero":false},"axis":{"title":null}}}},
   {"data":{"name":"diag"},"mark":{"type":"line","strokeWidth":2.5,"clip":true},
    "encoding":{"x":{"field":"v","type":"quantitative"},"y":{"field":"v","type":"quantitative"},
     "color":{"field":"k","type":"nominal","scale":{"range":["#e8232b"]},"legend":{"title":null}}}}
  ]},
  {"width":326,"height":233,"title":"Atraminių vektorių regresorius","layer":[
   {"data":{"name":"pts"},"mark":{"type":"circle","clip":true},
    "encoding":{"x":{"field":"actual","type":"quantitative","scale":{"domain":[6.8,10],"nice":false,"zero":false},"axis":{"title":"Tikrosios reikšmės"}},
     "y":{"field":"svr","type":"quantitative","scale":{"domain":[6.8,10],"nice":false,"zero":false},"axis":{"title":"Prognozuotos reikšmės"}}}},
   {"data":{"name":"diag"},"mark":{"type":"line","strokeWidth":2.5,"clip":true},
    "encoding":{"x":{"field":"v","type":"quantitative"},"y":{"field":"v","type":"quantitative"},
     "color":{"field":"k","type":"nominal","scale":{"range":["#e8232b"]},"legend":{"title":null}}}}
  ]},
  {"width":326,"height":233,"title":"Tiesinė regresija","layer":[
   {"data":{"name":"pts"},"mark":{"type":"circle","clip":true},
    "encoding":{"x":{"field":"actual","type":"quantitative","scale":{"domain":[6.8,10],"nice":false,"zero":false},"axis":{"title":"Tikrosios reikšmės"}},
     "y":{"field":"lr","type":"quantitative","scale":{"domain":[6.8,10],"nice":false,"zero":false},"axis":{"title":null}}}},
   {"data":{"name":"diag"},"mark":{"type":"line","strokeWidth":2.5,"clip":true},
    "encoding":{"x":{"field":"v","type":"quantitative"},"y":{"field":"v","type":"quantitative"},
     "color":{"field":"k","type":"nominal","scale":{"range":["#e8232b"]},"legend":{"title":null}}}}
  ]}
]
}
